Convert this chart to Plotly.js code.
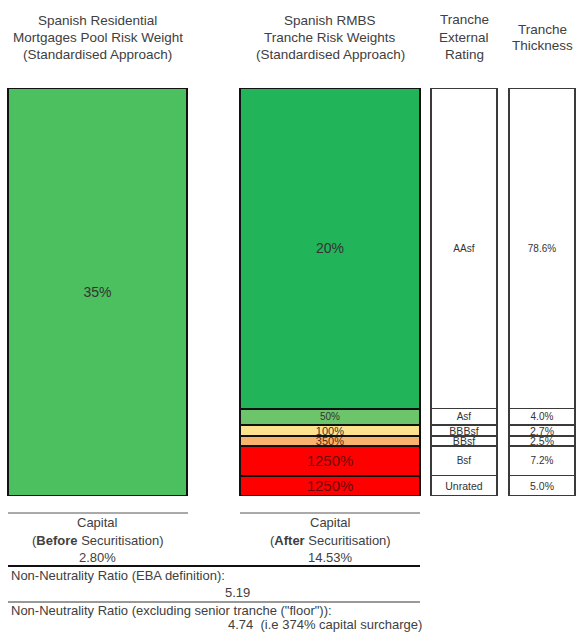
<!DOCTYPE html>
<html>
<head>
<meta charset="utf-8">
<script src="https://cdn.plot.ly/plotly-3.0.1.min.js"></script>
<style>
  html, body { margin: 0; padding: 0; background: #ffffff; }
  #chart { width: 576px; height: 633px; }
</style>
</head>
<body>
<div id="chart"></div>
<script>
// Tranche structure of the Spanish RMBS (senior first)
const tranches     = ['AAsf', 'Asf', 'BBBsf', 'BBsf', 'Bsf', 'Unrated'];
const thickness    = [78.6, 4.0, 2.7, 2.5, 7.2, 5.0];          // % of pool
const riskWeights  = [20, 50, 100, 350, 1250, 1250];            // % risk weight
const poolRiskWeight = [35];                                    // % before securitisation
const capitalBefore = [2.80];                                   // %
const capitalAfter  = [14.53];                                  // %
const nnrEBA        = [5.19];
const nnrFloor      = [4.74];
const floorSurcharge = [374];                                   // %

// Styling per tranche (senior first)
const rwColors   = ['#22b459', '#6cc56a', '#fde38d', '#f8b36d', '#ff0000', '#ff0000'];
const rwFontSize = [14, 10, 11, 11, 15, 15];
const rwFontCol  = ['#333333', '#333333', '#333333', '#5a2a10', '#6a0c0c', '#6a0c0c'];
const cellFont   = [10, 10, 10.5, 10.5, 10, 10.5];

// Column geometry (x axis runs in page pixels)
const COL_POOL  = {x: 97.5, w: 179};
const COL_RMBS  = {x: 330,  w: 180};
const COL_RATE  = {x: 464,  w: 66};
const COL_THICK = {x: 542,  w: 66};

const FONT = 'Liberation Sans, Arial, Helvetica, sans-serif';
const TEXT_COL = '#404040';
const HEAD_SIZE = 13.5;

// plot area spans page rows 88..496
const PLOT_TOP = 88, PLOT_BOTTOM = 496;
const py = p => (PLOT_BOTTOM - p) / (PLOT_BOTTOM - PLOT_TOP);

const traces = [];

// pool bar
traces.push({
  type: 'bar',
  x: [COL_POOL.x], y: poolRiskWeight.map(() => 100), width: [COL_POOL.w],
  marker: {color: '#4cbf5e', line: {color: '#111111', width: 2}},
  text: poolRiskWeight.map(v => v + '%'),
  textposition: 'inside', insidetextanchor: 'middle', textangle: 0,
  constraintext: 'none',
  textfont: {family: FONT, size: 14, color: '#333333'},
  hoverinfo: 'skip', showlegend: false, cliponaxis: false
});

// tranche stack: bottom (unrated) first so that the senior tranche sits on top
for (let i = tranches.length - 1; i >= 0; i--) {
  traces.push({
    type: 'bar',
    x: [COL_RMBS.x, COL_RATE.x, COL_THICK.x],
    y: [thickness[i], thickness[i], thickness[i]],
    width: [COL_RMBS.w, COL_RATE.w, COL_THICK.w],
    marker: {
      color: [rwColors[i], '#ffffff', '#ffffff'],
      line: {color: ['#111111', '#3a3a3a', '#3a3a3a'], width: [2, 1.5, 1.5]}
    },
    text: [riskWeights[i] + '%', tranches[i], thickness[i].toFixed(1) + '%'],
    textposition: 'inside', insidetextanchor: 'middle', textangle: 0,
    constraintext: 'none',
    textfont: {
      family: FONT,
      size: [rwFontSize[i], cellFont[i], cellFont[i]],
      color: [rwFontCol[i], '#333333', '#333333']
    },
    hoverinfo: 'skip', showlegend: false, cliponaxis: false
  });
}

function note(text, x, yPix, anchor, size, color) {
  return {
    text: text, x: x, xref: 'x', y: py(yPix), yref: 'paper',
    xanchor: anchor || 'center', yanchor: 'middle', showarrow: false,
    font: {family: FONT, size: size || 13, color: color || TEXT_COL}
  };
}

const annotations = [
  // column headers
  note('Spanish Residential', COL_POOL.x, 21, 'center', HEAD_SIZE),
  note('Mortgages Pool Risk Weight', COL_POOL.x, 37, 'center', HEAD_SIZE),
  note('(Standardised Approach)', COL_POOL.x, 54, 'center', HEAD_SIZE),
  note('Spanish RMBS', COL_RMBS.x, 21, 'center', HEAD_SIZE),
  note('Tranche Risk Weights', COL_RMBS.x, 37, 'center', HEAD_SIZE),
  note('(Standardised Approach)', COL_RMBS.x, 54, 'center', HEAD_SIZE),
  note('Tranche', COL_RATE.x, 20, 'center', HEAD_SIZE),
  note('External', COL_RATE.x, 37, 'center', HEAD_SIZE),
  note('Rating', COL_RATE.x, 54, 'center', HEAD_SIZE),
  note('Tranche', COL_THICK.x, 29, 'center', HEAD_SIZE),
  note('Thickness', COL_THICK.x, 46, 'center', HEAD_SIZE),
  // capital summary
  note('Capital', COL_POOL.x, 522),
  note('(<b>Before</b> Securitisation)', COL_POOL.x, 540),
  note(capitalBefore[0].toFixed(2) + '%', COL_POOL.x, 557),
  note('Capital', COL_RMBS.x, 522),
  note('(<b>After</b> Securitisation)', COL_RMBS.x, 540),
  note(capitalAfter[0].toFixed(2) + '%', COL_RMBS.x, 557),
  note('Non-Neutrality Ratio (EBA definition):', 9, 575, 'left'),
  note(nnrEBA[0].toFixed(2), 237, 592),
  note('Non-Neutrality Ratio (excluding senior tranche ("floor")):', 9, 610, 'left'),
  note(nnrFloor[0].toFixed(2) + '  (i.e ' + floorSurcharge[0] + '% capital surcharge)', 226, 624, 'left')
];

function hline(x0, x1, yPix, color, width) {
  return {type: 'line', xref: 'x', yref: 'paper', x0: x0, x1: x1, y0: py(yPix), y1: py(yPix),
          line: {color: color, width: width}};
}

const shapes = [
  hline(8, 188, 513, '#555555', 1),
  hline(240, 420, 513, '#555555', 1),
  hline(8, 420, 566, '#111111', 2),
  hline(8, 420, 602, '#777777', 1.5)
];

const layout = {
  width: 576, height: 633,
  margin: {l: 0, r: 0, t: PLOT_TOP, b: 633 - PLOT_BOTTOM, pad: 0},
  paper_bgcolor: '#ffffff', plot_bgcolor: '#ffffff',
  barmode: 'stack',
  showlegend: false,
  xaxis: {range: [0, 576], visible: false, fixedrange: true},
  yaxis: {range: [0, 100], visible: false, fixedrange: true},
  annotations: annotations,
  shapes: shapes,
  font: {family: FONT, color: TEXT_COL}
};

Plotly.newPlot('chart', traces, layout, {staticPlot: true, displayModeBar: false});
</script>
</body>
</html>
